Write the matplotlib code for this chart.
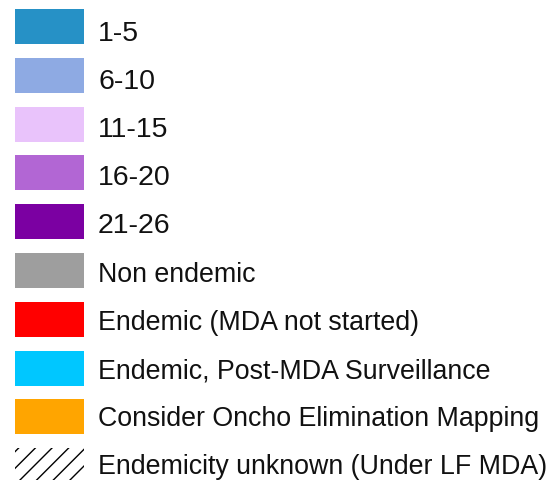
import matplotlib
matplotlib.use('Agg')
import matplotlib.pyplot as plt
from matplotlib.patches import Rectangle

plt.rcParams['font.family'] = ['Liberation Sans', 'DejaVu Sans']
plt.rcParams['hatch.linewidth'] = 1.0

labels = ['1-5', '6-10', '11-15', '16-20', '21-26', 'Non endemic',
          'Endemic (MDA not started)', 'Endemic, Post-MDA Surveillance',
          'Consider Oncho Elimination Mapping',
          'Endemicity unknown (Under LF MDA)']
colors = ['#2691c6', '#8eaae3', '#e9c3fb', '#b266d4', '#7b00a2', '#9e9e9e',
          '#ff0000', '#00c7ff', '#ffa500', 'white']
hatches = [None] * 9 + ['//']

W, H = 553, 481
fig = plt.figure(figsize=(W / 100, H / 100), dpi=100)
ax = fig.add_axes([0, 0, 1, 1])
ax.set_xlim(0, W)
ax.set_ylim(H, 0)
ax.axis('off')

for i, (lab, col, hat) in enumerate(zip(labels, colors, hatches)):
    y = 10 + i * 48.8
    if hat:
        ax.add_patch(Rectangle((15, y), 69, 35, facecolor=col, edgecolor='black',
                               linewidth=0, hatch=hat))
    else:
        ax.add_patch(Rectangle((15, y), 69, 35, facecolor=col, linewidth=0))
    # range labels are drawn a bit larger than the text ones
    fs = 20.5 if i < 5 else 19.3
    ax.text(98, 40.7 + i * 48.2, lab, fontsize=fs, color='#111111',
            va='baseline', ha='left')

fig.savefig('out.png', dpi=100)
